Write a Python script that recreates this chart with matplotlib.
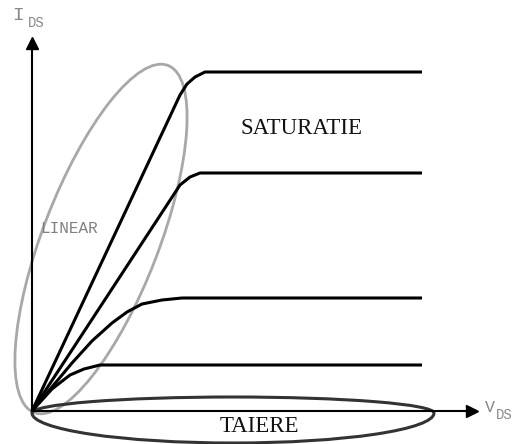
import matplotlib
matplotlib.use("Agg")
import matplotlib.pyplot as plt
from matplotlib.patches import Ellipse, Arc

# curbe caracteristice I_DS(V_DS) (unitati ~ pixeli, originea in coltul axelor)
c1_x = [0, 148, 155, 163, 173, 390]
c1_y = [0, 316, 327, 334, 339, 339]
c2_x = [0, 148, 158, 168, 390]
c2_y = [0, 226, 234, 238, 238]
c3_x = [0, 20, 40, 60, 80, 95, 110, 130, 150, 390]
c3_y = [0, 24, 48, 70, 88, 99, 107, 111, 113, 113]
c4_x = [0, 20, 38, 52, 68, 390]
c4_y = [0, 22, 36, 42, 46, 46]
curbe = [(c1_x, c1_y), (c2_x, c2_y), (c3_x, c3_y), (c4_x, c4_y)]

fig = plt.figure(figsize=(5.15, 4.44), dpi=100)
ax = fig.add_axes([0, 0, 1, 1])
ax.set_xlim(-32, 483)
ax.set_ylim(-33, 411)
ax.axis("off")

# axele cu sageti
ax.plot([0, 0], [0, 365], color="black", lw=1.5)
ax.plot([0, 437], [0, 0], color="black", lw=1.5)
ax.plot([0], [368], marker="^", color="black", markersize=8)
ax.plot([440], [0], marker=">", color="black", markersize=8)

for x, y in curbe:
    ax.plot(x, y, color="black", lw=2.2, solid_capstyle="butt")

# regiunea liniara (elipsa gri inclinata)
ax.add_patch(Ellipse((69, 172), 372, 116, angle=68.9, fill=False,
                     edgecolor="#a8a8a8", lw=2))

# regiunea de taiere (elipsa de jos)
ax.add_patch(Arc((201, -2), 402, 32, theta1=0, theta2=180,
                 edgecolor="#333333", lw=2.2))
ax.add_patch(Arc((201, -2), 402, 60, theta1=180, theta2=360,
                 edgecolor="#333333", lw=2.2))

ax.text(269, 282, "SATURATIE", fontsize=16.5, family="Liberation Serif",
        ha="center", va="center", color="#111111")
ax.text(227, -15, "TAIERE", fontsize=16.5, family="Liberation Serif",
        ha="center", va="center", color="#111111")
ax.text(37, 183, "LINEAR", fontsize=11.5, family="Liberation Mono",
        ha="center", va="center", color="#808080")

ax.text(-14, 395, "I", fontsize=14, family="Liberation Mono",
        ha="center", va="center", color="#888888")
ax.text(4, 388, "DS", fontsize=10, family="Liberation Mono",
        ha="center", va="center", color="#888888")
ax.text(458, 4, "V", fontsize=12, family="Liberation Mono",
        ha="center", va="center", color="#888888")
ax.text(472, -4, "DS", fontsize=10, family="Liberation Mono",
        ha="center", va="center", color="#888888")

fig.savefig("out.png", dpi=100)
